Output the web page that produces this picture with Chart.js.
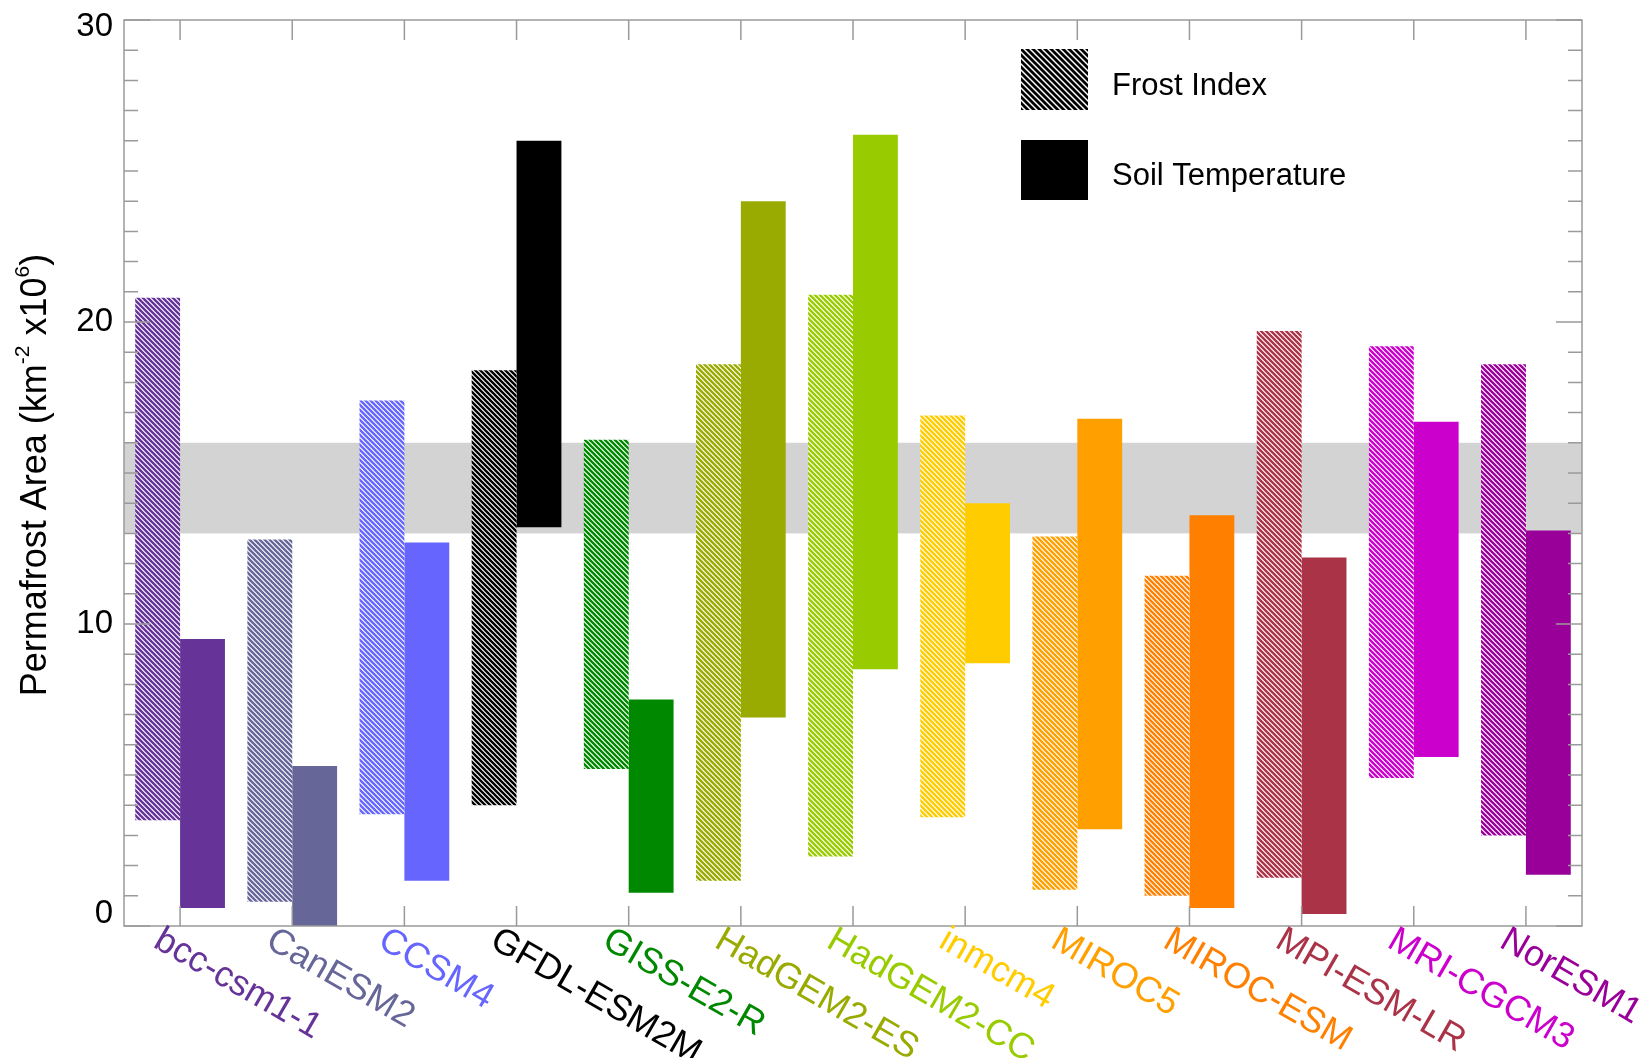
<!DOCTYPE html>
<html>
<head>
<meta charset="utf-8">
<script src="https://cdn.jsdelivr.net/npm/chart.js@4.4.1/dist/chart.umd.min.js"></script>
<style>
  html, body { margin: 0; padding: 0; background: #fff; }
  #wrap { width: 1646px; height: 1058px; }
</style>
</head>
<body>
<div id="wrap"><canvas id="chartCanvas" width="1646" height="1058"></canvas></div>
<script>
const models = ["bcc-csm1-1", "CanESM2", "CCSM4", "GFDL-ESM2M", "GISS-E2-R", "HadGEM2-ES",
    "HadGEM2-CC", "inmcm4", "MIROC5", "MIROC-ESM", "MPI-ESM-LR", "MRI-CGCM3", "NorESM1"];
const modelColors = ["#663399", "#666699", "#6666ff", "#000000", "#008800", "#99aa00",
    "#99cc00", "#ffcc00", "#ffa000", "#ff8000", "#aa3348", "#cc00cc", "#990099"];

// ranges in km2 x10^6
const frostLow  = [3.5, 0.8, 3.7, 4.0, 5.2, 1.5, 2.3, 3.6, 1.2, 1.0, 1.6, 4.9, 3.0];
const frostHigh = [20.8, 12.8, 17.4, 18.4, 16.1, 18.6, 20.9, 16.9, 12.9, 11.6, 19.7, 19.2, 18.6];
const soilLow   = [0.6, 0.0, 1.5, 13.2, 1.1, 6.9, 8.5, 8.7, 3.2, 0.6, 0.4, 5.6, 1.7];
const soilHigh  = [9.5, 5.3, 12.7, 26.0, 7.5, 24.0, 26.2, 14.0, 16.8, 13.6, 12.2, 16.7, 13.1];

// observed range (grey band)
const obsBand = [13, 16];
const yTicks = [0, 10, 20, 30];

const FONT = '"Liberation Sans", Arial, Helvetica, sans-serif';

function hatch(color, size, lw) {
    const c = document.createElement('canvas');
    c.width = size; c.height = size;
    const g = c.getContext('2d');
    g.fillStyle = '#fff';
    g.fillRect(0, 0, size, size);
    g.strokeStyle = color;
    g.lineWidth = lw;
    g.beginPath();
    g.moveTo(-1, -1); g.lineTo(size + 1, size + 1);
    g.moveTo(size - 2, -2); g.lineTo(size + 2, 2);
    g.moveTo(-2, size - 2); g.lineTo(2, size + 2);
    g.stroke();
    return g.createPattern(c, 'repeat');
}

const decor = {
    id: 'decor',
    beforeDatasetsDraw(chart) {
        const ctx = chart.ctx, ca = chart.chartArea, y = chart.scales.y;
        const top = y.getPixelForValue(obsBand[1]);
        const bot = y.getPixelForValue(obsBand[0]);
        ctx.save();
        ctx.fillStyle = '#d3d3d3';
        ctx.fillRect(ca.left, top, ca.right - ca.left, bot - top);
        ctx.restore();
    },
    afterDatasetsDraw(chart) {
        const ctx = chart.ctx, ca = chart.chartArea;
        const x = chart.scales.x, y = chart.scales.y;
        ctx.save();

        // frame and inner ticks
        ctx.strokeStyle = '#9a9a9a';
        ctx.lineWidth = 1.5;
        ctx.strokeRect(ca.left, ca.top, ca.right - ca.left, ca.bottom - ca.top);
        ctx.beginPath();
        for (let v = y.min; v <= y.max; v++) {
            const py = y.getPixelForValue(v);
            const len = v % 10 === 0 ? 26 : 14;
            ctx.moveTo(ca.left, py); ctx.lineTo(ca.left + len, py);
            ctx.moveTo(ca.right, py); ctx.lineTo(ca.right - len, py);
        }
        models.forEach((m, i) => {
            const px = x.getPixelForTick(i);
            ctx.moveTo(px, ca.bottom); ctx.lineTo(px, ca.bottom - 20);
            ctx.moveTo(px, ca.top); ctx.lineTo(px, ca.top + 20);
        });
        ctx.stroke();

        // y tick labels, end ones nudged inside like the original
        ctx.font = '33px ' + FONT;
        ctx.fillStyle = '#000';
        ctx.textAlign = 'right';
        ctx.textBaseline = 'middle';
        yTicks.forEach(v => {
            let py = y.getPixelForValue(v);
            if (v === y.max) py += 7;
            if (v === y.min) py -= 12;
            ctx.fillText(String(v), ca.left - 11, py);
        });

        // rotated category labels
        ctx.font = '36px ' + FONT;
        ctx.textAlign = 'left';
        ctx.textBaseline = 'top';
        models.forEach((m, i) => {
            const px = x.getPixelForTick(i);
            ctx.save();
            ctx.translate(px - 14, ca.bottom - 4);
            ctx.rotate(30 * Math.PI / 180);
            ctx.fillStyle = modelColors[i];
            ctx.fillText(m, 0, 0);
            ctx.restore();
        });

        // y axis title with superscripts
        const parts = [
            ['Permafrost Area (km', 36, 0],
            ['-2', 21, -13],
            [' x10', 36, 0],
            ['6', 21, -13],
            [')', 36, 0]
        ];
        let total = 0;
        parts.forEach(p => { ctx.font = p[1] + 'px ' + FONT; total += ctx.measureText(p[0]).width; });
        ctx.save();
        ctx.translate(36, (ca.top + ca.bottom) / 2 + 2);
        ctx.rotate(-Math.PI / 2);
        ctx.fillStyle = '#000';
        ctx.textBaseline = 'middle';
        let cx = -total / 2;
        parts.forEach(p => {
            ctx.font = p[1] + 'px ' + FONT;
            ctx.fillText(p[0], cx, p[2]);
            cx += ctx.measureText(p[0]).width;
        });
        ctx.restore();

        // legend
        ctx.fillStyle = hatch('#000', 6, 2.8);
        ctx.fillRect(1021, 49, 67, 61);
        ctx.fillStyle = '#000';
        ctx.fillRect(1021, 140, 67, 60);
        ctx.font = '31px ' + FONT;
        ctx.textAlign = 'left';
        ctx.textBaseline = 'middle';
        ctx.fillText('Frost Index', 1112, 86);
        ctx.fillText('Soil Temperature', 1112, 176);

        ctx.restore();
    }
};

const ctx = document.getElementById('chartCanvas').getContext('2d');

new Chart(ctx, {
    type: 'bar',
    data: {
        labels: models,
        datasets: [{
            label: 'Frost Index',
            data: models.map((m, i) => [frostLow[i], frostHigh[i]]),
            backgroundColor: modelColors.map(c => hatch(c, 5, 2.4)),
            borderWidth: 0,
            borderSkipped: false
        }, {
            label: 'Soil Temperature',
            data: models.map((m, i) => [soilLow[i], soilHigh[i]]),
            backgroundColor: modelColors,
            borderWidth: 0,
            borderSkipped: false
        }]
    },
    options: {
        responsive: false,
        animation: false,
        devicePixelRatio: 1,
        categoryPercentage: 0.8,
        barPercentage: 1.0,
        layout: { padding: { top: 20, right: 64, left: 0, bottom: 0 } },
        plugins: {
            legend: { display: false },
            tooltip: { enabled: false }
        },
        scales: {
            x: {
                grid: { display: false, drawTicks: false },
                border: { display: false },
                ticks: { display: false },
                afterFit(scale) { scale.height = 132; }
            },
            y: {
                min: 0,
                max: 30,
                grid: { display: false, drawTicks: false },
                border: { display: false },
                afterBuildTicks(scale) { scale.ticks = yTicks.map(v => ({ value: v })); },
                ticks: { display: false },
                afterFit(scale) {
                    scale.width = 124;
                    scale.paddingTop = 0;
                    scale.paddingBottom = 0;
                }
            }
        }
    },
    plugins: [decor]
});
</script>
</body>
</html>
